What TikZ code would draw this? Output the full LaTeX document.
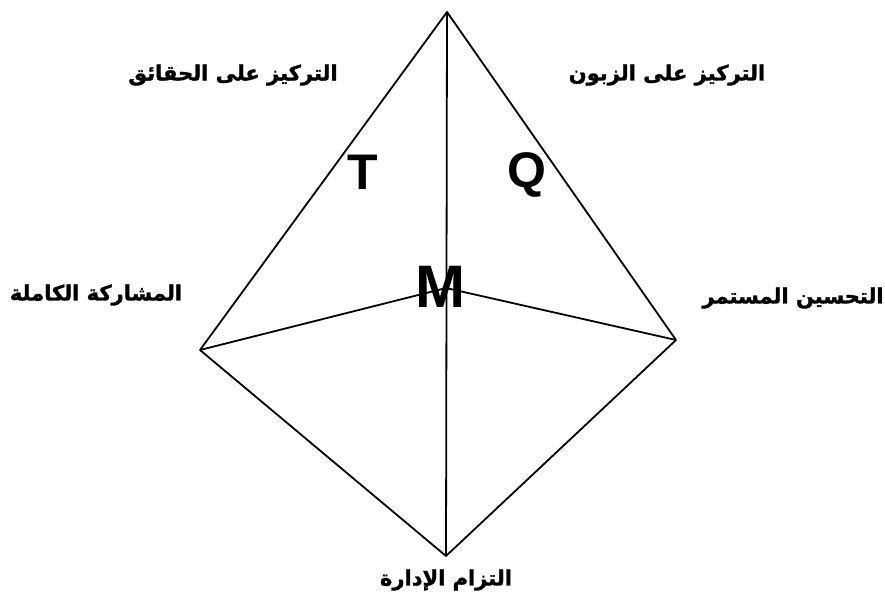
\documentclass[tikz,border=0pt]{standalone}
\usepackage{fontspec}
\setmainfont{Liberation Sans}
\newfontfamily\arabicfont[Script=Arabic,BoldFeatures={FakeBold=1.5}]{DejaVu Sans}
\TeXXeTstate=1
\tikzset{
  edge/.style={line width=1.8pt, line join=round},
  lbl/.style={inner sep=0pt, font=\arabicfont\bfseries\fontsize{21}{21}\selectfont},
  letter/.style={inner sep=0pt, font=\bfseries\fontsize{50}{50}\selectfont},
  bigletter/.style={inner sep=0pt, font=\bfseries\fontsize{60}{60}\selectfont},
}
\begin{document}
\begin{tikzpicture}[x=1pt,y=-1pt]
\useasboundingbox (0,0) rectangle (885,603);
\coordinate (top) at (447,12);
\coordinate (left) at (200,350);
\coordinate (right) at (676,340);
\coordinate (bottom) at (446,556);
\coordinate (center) at (446,288);
\draw[edge] (top) -- (left) -- (bottom) -- (right) -- cycle;
\draw[edge] (top) -- (bottom);
\draw[edge] (left) -- (center) -- (right);
\node[letter] (t) at (363,172) {T};
\node[letter] (q) at (527,175) {Q};
\node[bigletter] (m) at (440,287) {M};
\node[lbl] (l1) at (233,75) {\beginR التركيز على الحقائق\endR};
\node[lbl] (l2) at (667,75) {\beginR التركيز على الزبون\endR};
\node[lbl] (l3) at (96,295) {\beginR المشاركة الكاملة\endR};
\node[lbl] (l4) at (793,298) {\beginR التحسين المستمر\endR};
\node[lbl] (l5) at (446,580) {\beginR التزام الإدارة\endR};
\end{tikzpicture}
\end{document}
